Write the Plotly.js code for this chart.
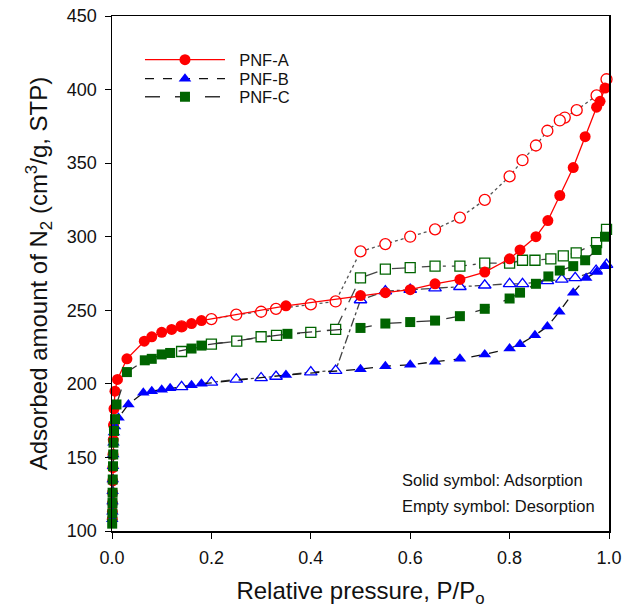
<!DOCTYPE html>
<html><head><meta charset="utf-8">
<script src="https://cdn.plot.ly/plotly-3.0.1.min.js"></script>
<style>body{margin:0;background:#fff}#chart{width:624px;height:615px}</style>
</head><body><div id="chart"></div>
<script>
// PNF-A
const aAdsX = [0.0006,0.0008,0.001,0.0012,0.0015,0.0018,0.002,0.0025,0.003,0.004,0.006,0.011,0.03,0.065,0.08,0.10,0.12,0.14,0.16,0.18,0.35,0.50,0.55,0.60,0.65,0.70,0.75,0.80,0.821,0.853,0.877,0.901,0.928,0.952,0.975,0.982,0.992];
const aAdsY = [108,113,119,126,134,143,152,162,172,183,195,203,217,229,232,235,237,239,241,243,253,260,262,264,268,271,276,285,291,300,311,328,347,368,388,392,401];
const aDesX = [0.995,0.975,0.935,0.911,0.901,0.876,0.853,0.826,0.80,0.75,0.70,0.65,0.60,0.55,0.50,0.45,0.40,0.33,0.30,0.25,0.20,0.14];
const aDesY = [407,396,386,381,379,372,362,352,341,325,313,305,300,295,290,256,254,251,249,247,244,239];
// PNF-B
const bAdsX = [0.0005,0.0008,0.001,0.0012,0.0015,0.002,0.0025,0.003,0.004,0.006,0.013,0.033,0.063,0.08,0.10,0.117,0.16,0.18,0.35,0.50,0.55,0.60,0.65,0.70,0.75,0.80,0.821,0.851,0.876,0.90,0.928,0.954,0.975,0.992];
const bAdsY = [108,113,120,127,135,144,152,160,167,171,177,186,194,195,196,197,199,200,206,210,212,213,215,217,220,224,227,233,239,249,262,272,276,280];
const bDesX = [0.995,0.974,0.932,0.905,0.876,0.826,0.80,0.75,0.70,0.65,0.60,0.55,0.50,0.45,0.40,0.33,0.30,0.25,0.20,0.14];
const bDesY = [281,277,272,271,270,268,268,267,266,265,264,263,257,209,208,205,204,203,201,198];
// PNF-C
const cAdsX = [0.0004,0.0007,0.001,0.0012,0.0015,0.002,0.0025,0.003,0.004,0.006,0.009,0.03,0.066,0.08,0.10,0.117,0.16,0.18,0.353,0.50,0.55,0.60,0.65,0.70,0.75,0.80,0.821,0.853,0.878,0.901,0.928,0.952,0.975,0.992];
const cAdsY = [105,112,119,126,135,144,152,160,168,176,186,208,216,217,220,221,224,226,234,238,241,242,243,246,251,258,262,268,273,277,280,284,291,300];
const cDesX = [0.995,0.975,0.934,0.908,0.883,0.851,0.826,0.80,0.75,0.70,0.65,0.60,0.55,0.50,0.45,0.40,0.331,0.30,0.251,0.20,0.14];
const cDesY = [305,296,289,287,285,284,284,282,282,280,280,279,278,272,237,235,233,232,229,227,222];

const legendLabels = ["PNF-A","PNF-B","PNF-C"];
const annoText = ["Solid symbol: Adsorption","Empty symbol: Desorption"];
const pad = '&nbsp;&nbsp;';

const traces = [
  {x:aDesX,y:aDesY,mode:'lines+markers',showlegend:false,cliponaxis:false,line:{color:'#555',dash:'dot',width:1.3},
   marker:{symbol:'circle',size:11,color:'#fff',line:{color:'#ff0000',width:1.3}}},
  {x:bDesX,y:bDesY,mode:'lines+markers',showlegend:false,cliponaxis:false,line:{color:'#444',dash:'dashdot',width:1.3},
   marker:{symbol:'triangle-up',size:11,color:'#fff',line:{color:'#0000ff',width:1.3}}},
  {x:cDesX,y:cDesY,mode:'lines+markers',showlegend:false,cliponaxis:false,line:{color:'#444',dash:'longdashdot',width:1.3},
   marker:{symbol:'square',size:10,color:'#fff',line:{color:'#006400',width:1.3}}},
  {x:aAdsX,y:aAdsY,name:pad+legendLabels[0],legend:'legend',mode:'lines+markers',cliponaxis:false,line:{color:'#ff0000',width:1.3},
   marker:{symbol:'circle',size:11,color:'#ff0000'}},
  {x:bAdsX,y:bAdsY,name:pad+legendLabels[1],legend:'legend2',mode:'lines+markers',cliponaxis:false,line:{color:'#111',dash:'dash',width:1.3},
   marker:{symbol:'triangle-up',size:11,color:'#0000ff'}},
  {x:cAdsX,y:cAdsY,name:pad+legendLabels[2],legend:'legend3',mode:'lines+markers',cliponaxis:false,line:{color:'#333',dash:'longdash',width:1.3},
   marker:{symbol:'square',size:10,color:'#006400'}}
];

const legBase = {x:0.0563,xanchor:'left',yanchor:'middle',bgcolor:'rgba(0,0,0,0)',font:{size:16.5},itemwidth:80};
const layout = {
  width:624,height:615,
  margin:{l:112,r:15,t:16,b:84},
  paper_bgcolor:'#fff',plot_bgcolor:'#fff',
  font:{family:'Liberation Sans, Arial, sans-serif',color:'#111'},
  xaxis:{range:[0,1.0],tickvals:[0,0.2,0.4,0.6,0.8,1.0],ticktext:['0.0','0.2','0.4','0.6','0.8','1.0'],
    showgrid:false,zeroline:false,showline:true,linecolor:'#000',linewidth:1.5,mirror:true,
    ticks:'outside',ticklen:6,tickcolor:'#000',tickfont:{size:18},ticklabelstandoff:4,
    title:{text:'Relative pressure, P/P<sub>o</sub>',font:{size:24},standoff:15}},
  yaxis:{range:[100,450],tickvals:[100,150,200,250,300,350,400,450],
    showgrid:false,zeroline:false,showline:true,linecolor:'#000',linewidth:1.5,mirror:true,
    ticks:'outside',ticklen:6,tickcolor:'#000',tickfont:{size:18},ticklabelstandoff:4,
    title:{text:'Adsorbed amount of N<sub>2</sub> (cm<sup>3</sup>/g, STP)',font:{size:24},standoff:12}},
  legend:Object.assign({},legBase,{y:0.9146}),
  legend2:Object.assign({},legBase,{y:0.8777}),
  legend3:Object.assign({},legBase,{y:0.8427}),
  annotations:[
    {xref:'paper',yref:'paper',x:0.579,y:0.099,xanchor:'left',yanchor:'middle',text:annoText[0],showarrow:false,font:{size:16.5}},
    {xref:'paper',yref:'paper',x:0.579,y:0.0485,xanchor:'left',yanchor:'middle',text:annoText[1],showarrow:false,font:{size:16.5}}
  ]
};
Plotly.newPlot('chart',traces,layout,{displayModeBar:false,staticPlot:true});
</script></body></html>
